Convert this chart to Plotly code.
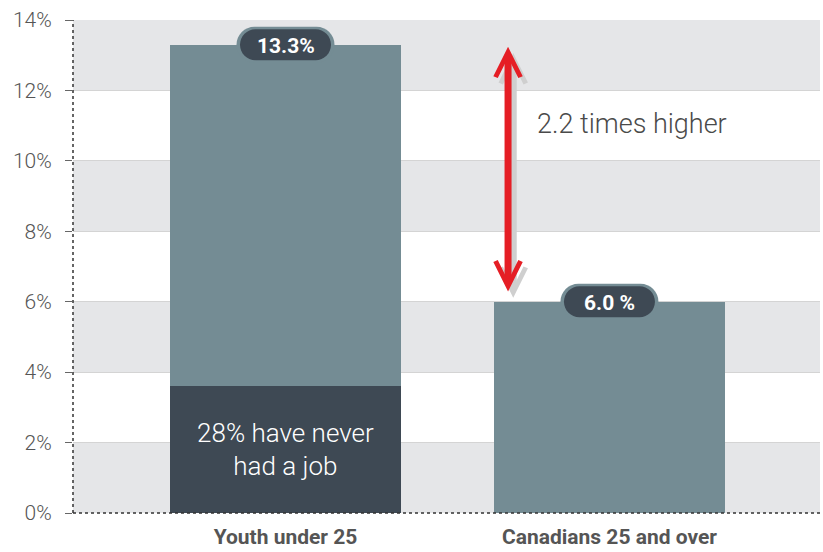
import plotly.graph_objects as go

# ---- data ----
categories = ["Youth under 25", "Canadians 25 and over"]
unemployment_rate = [13.3, 6.0]
never_had_job_part = [3.6]          # portion of youth rate who never had a job (28%)
never_had_job_label = "28% have never<br>had a job"
badge_labels = ["13.3%", "6.0 %"]
y_ticks = [0, 2, 4, 6, 8, 10, 12, 14]
y_tick_labels = [f"{v}%" for v in y_ticks]
ratio_label = f"{unemployment_rate[0] / unemployment_rate[1]:.1f} times higher"

# ---- styles ----
BAR = "#748c94"
DARK = "#3e4954"
STRIPE = "#e5e6e8"
RED = "#e51e25"
TXT = "#4a4a4a"
FONT = "Roboto"

xpos = [0, 1]
xr = [-0.656, 1.650]
bw = 0.713

fig = go.Figure()
fig.add_trace(go.Bar(x=xpos, y=unemployment_rate, width=bw, marker=dict(color=BAR, line_width=0),
                     hoverinfo="skip", showlegend=False))
fig.add_trace(go.Bar(x=[xpos[0]], y=never_had_job_part, width=bw, marker=dict(color=DARK, line_width=0),
                     text=[never_had_job_label], textposition="inside", insidetextanchor="middle",
                     textfont=dict(family=FONT, size=26, color="white", weight=300),
                     constraintext="none", hoverinfo="skip", showlegend=False))

shapes = []
# alternating stripes
for lo in [0, 4, 8, 12]:
    shapes.append(dict(type="rect", xref="x domain", yref="y", x0=0, x1=1, y0=lo, y1=lo + 2,
                       fillcolor=STRIPE, line_width=0, layer="below"))
# dotted axis lines
shapes.append(dict(type="line", xref="x domain", yref="y domain", x0=0, x1=0, y0=0, y1=1,
                   line=dict(color="#333", width=1.5, dash="dot"), layer="above"))
shapes.append(dict(type="line", xref="x domain", yref="y domain", x0=0, x1=1, y0=0, y1=0,
                   line=dict(color="#333", width=1.5, dash="dot"), layer="above"))

# pill badges
def pill(w, h):
    r = h
    a = w - r
    k = 0.5523 * r
    return (f"M{-a},{-h} L{a},{-h} C{a + k},{-h} {w},{-k} {w},0 C{w},{k} {a + k},{h} {a},{h} "
            f"L{-a},{h} C{-a - k},{h} {-w},{k} {-w},0 C{-w},{-k} {-a - k},{-h} {-a},{-h} Z")

for xv, yv in zip(xpos, unemployment_rate):
    shapes.append(dict(type="path", xref="x", yref="y", xsizemode="pixel", ysizemode="pixel",
                       xanchor=xv, yanchor=yv, path=pill(49, 18), fillcolor=BAR, line_width=0,
                       layer="above"))
    shapes.append(dict(type="path", xref="x", yref="y", xsizemode="pixel", ysizemode="pixel",
                       xanchor=xv, yanchor=yv, path=pill(45.5, 15.5), fillcolor=DARK, line_width=0,
                       layer="above"))

annotations = []
for xv, yv, lab in zip(xpos, unemployment_rate, badge_labels):
    annotations.append(dict(x=xv, y=yv, xref="x", yref="y", text=lab, showarrow=False,
                            font=dict(family=FONT, size=21, color="white", weight="bold"),
                            yshift=-1))

# double arrow between the two levels (with shadow)
ax_x = 0.687
top_y = unemployment_rate[0] - 0.06
bot_y = unemployment_rate[1] + 0.25
sdx, sdy = 0.016, 0.18
annotations.append(dict(x=ax_x + sdx, y=top_y - sdy, ax=ax_x + sdx, ay=bot_y - sdy,
                        xref="x", yref="y", axref="x", ayref="y", text="", showarrow=True,
                        arrowhead=5, startarrowhead=5, arrowside="end+start", arrowwidth=7,
                        arrowsize=0.7, startarrowsize=0.7, arrowcolor="#cfcfcf"))
annotations.append(dict(x=ax_x, y=top_y, ax=ax_x, ay=bot_y,
                        xref="x", yref="y", axref="x", ayref="y", text="", showarrow=True,
                        arrowhead=5, startarrowhead=5, arrowside="end+start", arrowwidth=7,
                        arrowsize=0.7, startarrowsize=0.7, arrowcolor=RED))
annotations.append(dict(x=0.77, y=11.05, xref="x", yref="y", text=ratio_label, showarrow=False,
                        xanchor="left", yanchor="middle",
                        font=dict(family=FONT, size=27, color=TXT, weight=300)))

fig.update_layout(
    width=823, height=552,
    margin=dict(l=73, r=3, t=20, b=39, autoexpand=False),
    paper_bgcolor="white", plot_bgcolor="white",
    barmode="overlay", bargap=0,
    shapes=shapes, annotations=annotations,
    showlegend=False,
    xaxis=dict(range=xr, tickvals=xpos, ticktext=categories, showgrid=False, zeroline=False,
               showline=False, ticks="", ticklabelstandoff=9, automargin=False,
               tickfont=dict(family=FONT, size=21, color="#555", weight="bold"), fixedrange=True),
    yaxis=dict(range=[0, 14], tickvals=y_ticks, ticktext=y_tick_labels, showgrid=True,
               gridcolor="#d4d4d4", gridwidth=1, zeroline=False, showline=False, automargin=False,
               ticks="outside", ticklen=7, tickcolor="#666", tickwidth=1, ticklabelstandoff=9,
               tickfont=dict(family=FONT, size=21, color="#555", weight=300), fixedrange=True),
)

fig.write_html("out.html", config={"displayModeBar": False},
               post_script="document.body.style.margin='0';document.body.style.overflow='hidden';")
